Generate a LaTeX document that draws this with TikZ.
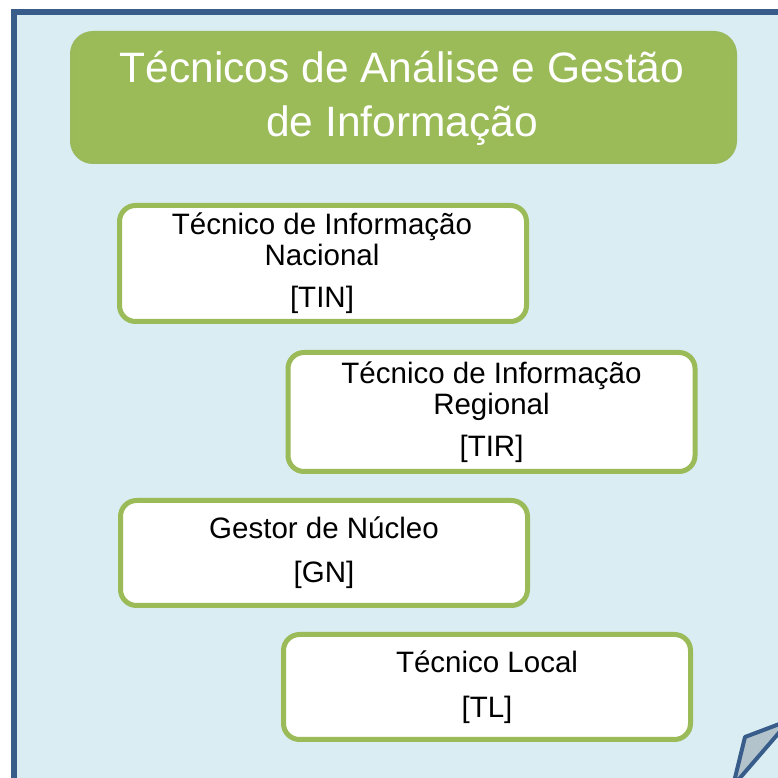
\documentclass[tikz,border=0pt]{standalone}
\usepackage{fontspec}
\setmainfont{Liberation Sans}
\definecolor{framefill}{HTML}{DAEDF3}
\definecolor{frameline}{HTML}{385D8A}
\definecolor{ogreen}{HTML}{9BBB59}
\definecolor{ogreenline}{HTML}{9AB95A}
\definecolor{foldfill}{HTML}{B3C3CB}
\tikzset{
  rolebox/.style={draw=ogreen, line width=5pt, fill=white, rounded corners=16pt,
    minimum width=407pt, inner sep=0pt},
  roletext/.style={font=\fontsize{29.5}{30.5}\selectfont, text=black, align=center,
    anchor=base, inner sep=0pt},
}
\begin{document}
\begin{tikzpicture}[x=1pt,y=1pt]
\useasboundingbox (0,0) rectangle (778,778);
\clip (0,0) rectangle (778,778);
% frame
\path[fill=framefill, draw=frameline, line width=6pt] (14,-2.6) rectangle (800,766);
% fold
\path[fill=foldfill, draw=frameline, line width=4pt, line join=round]
  (745,41) -- (790,58) -- (733,-8) -- cycle;
% title
\node[draw=ogreenline, line width=2pt, fill=ogreen, rounded corners=22pt,
  minimum width=665pt, minimum height=131pt, inner sep=0pt] (title) at (403.5,680.5) {};
\node[font=\fontsize{42.5}{54}\selectfont, text=white, align=center, anchor=base, inner sep=0pt]
  (titletext) at (402,641) {Técnicos de Análise e Gestão\\de Informação};
% boxes
\node[rolebox, minimum height=116pt] (tin) at (323,514.5) {};
\node[roletext] (tintext) at (322,470) {Técnico de Informação\\Nacional\\[12pt]{[TIN]}};
\node[rolebox, minimum height=119pt] (tir) at (491.5,366) {};
\node[roletext] (tirtext) at (491.5,321) {Técnico de Informação\\Regional\\[12pt]{[TIR]}};
\node[rolebox, minimum height=105pt] (gn) at (324,225) {};
\node[roletext, font=\fontsize{29.5}{44}\selectfont] (gntext) at (324,195) {Gestor de Núcleo\\{[GN]}};
\node[rolebox, minimum height=105pt] (tl) at (487,91) {};
\node[roletext, font=\fontsize{29.5}{45}\selectfont] (tltext) at (487,60.3) {Técnico Local\\{[TL]}};
\end{tikzpicture}
\end{document}
